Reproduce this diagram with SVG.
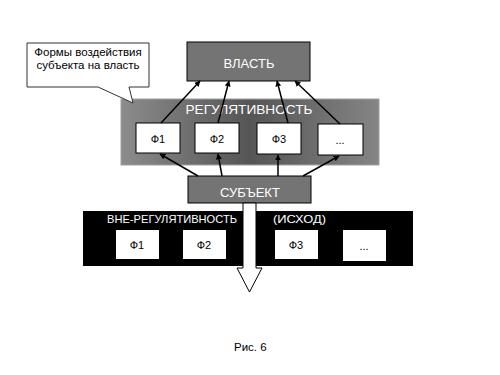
<svg xmlns="http://www.w3.org/2000/svg" width="500" height="375" viewBox="0 0 500 375">
<defs>
<style>
text{font-family:"Liberation Sans",Arial,sans-serif}
.big{font-size:13px;fill:#fff;text-anchor:middle}
.lbl{font-size:11px;fill:#000;text-anchor:middle}
.wl{font-size:10.5px;fill:#fff}
.gbox{fill:#747474;stroke:#000;stroke-width:1}
.wbox{fill:#fff;stroke:#000;stroke-width:1}
.nbox{fill:#fff}
.conn{stroke:#000;stroke-width:1.5;fill:none;marker-end:url(#ah)}
</style>
<marker id="ah" viewBox="0 0 10 10" refX="9" refY="5" markerWidth="6" markerHeight="6" markerUnits="userSpaceOnUse" orient="auto">
<path d="M0,0 L10,5 L0,10 Z" fill="#000"/>
</marker>
<linearGradient id="rg" x1="0" y1="0" x2="1" y2="0">
<stop offset="0" stop-color="#8c8c8c"/>
<stop offset="0.5" stop-color="#555"/>
<stop offset="1" stop-color="#858585"/>
</linearGradient>
</defs>
<rect width="500" height="375" fill="#fff"/>

<g id="regulyativnost">
<rect x="121" y="99" width="258" height="66" fill="url(#rg)" stroke="#a0a0a0" stroke-width="1"/>
<text class="big" x="249" y="114" textLength="127" lengthAdjust="spacingAndGlyphs">РЕГУЛЯТИВНОСТЬ</text>
</g>

<g id="callout">
<path d="M27,43 H149 V87 H129 L133,103 L98,87 H27 Z" fill="#fff" stroke="#333" stroke-width="1"/>
<text x="88" y="56" font-size="11.5" text-anchor="middle">Формы воздействия</text>
<text x="88" y="69" font-size="11.5" text-anchor="middle">субъекта на власть</text>
</g>

<g id="vlast">
<rect class="gbox" x="187" y="42" width="123" height="39"/>
<text class="big" x="249" y="68">ВЛАСТЬ</text>
</g>

<g id="r-f1"><rect class="wbox" x="136" y="123" width="44" height="30"/><text class="lbl" x="158" y="143">Ф1</text></g>
<g id="r-f2"><rect class="wbox" x="195" y="123" width="44" height="30"/><text class="lbl" x="217" y="143">Ф2</text></g>
<g id="r-f3"><rect class="wbox" x="257" y="123" width="44" height="31"/><text class="lbl" x="279" y="143">Ф3</text></g>
<g id="r-f4"><rect class="wbox" x="318" y="124" width="45" height="31"/><text class="lbl" x="340" y="144">...</text></g>

<g id="subekt">
<rect class="gbox" x="188" y="176" width="123" height="27"/>
<text class="big" x="250" y="197">СУБЪЕКТ</text>
</g>

<g id="vne">
<rect x="83" y="211" width="330" height="55" fill="#000"/>
<text class="wl" x="107" y="223" textLength="130" lengthAdjust="spacingAndGlyphs">ВНЕ-РЕГУЛЯТИВНОСТЬ</text>
<text class="wl" x="273" y="223" textLength="53" lengthAdjust="spacingAndGlyphs">(ИСХОД)</text>
</g>
<g id="v-f1"><rect class="nbox" x="116" y="230" width="43" height="29"/><text class="lbl" x="137" y="249">Ф1</text></g>
<g id="v-f2"><rect class="nbox" x="183" y="230" width="43" height="29"/><text class="lbl" x="204" y="249">Ф2</text></g>
<g id="v-f3"><rect class="nbox" x="275" y="230" width="43" height="29"/><text class="lbl" x="296" y="249">Ф3</text></g>
<g id="v-f4"><rect class="nbox" x="343" y="230" width="43" height="31"/><text class="lbl" x="364" y="250">...</text></g>

<g id="connectors">
<line class="conn" x1="161" y1="123" x2="200" y2="81"/>
<line class="conn" x1="218" y1="123" x2="229" y2="81"/>
<line class="conn" x1="288" y1="123" x2="277" y2="81"/>
<line class="conn" x1="340" y1="124" x2="295" y2="81"/>
<line class="conn" x1="198" y1="176" x2="160" y2="154"/>
<line class="conn" x1="222" y1="176" x2="218" y2="154"/>
<line class="conn" x1="278" y1="176" x2="278" y2="155"/>
<line class="conn" x1="303" y1="176" x2="339" y2="156"/>
<path d="M243,203 V268 H237 L249.5,292 L262,268 H256 V203 Z" fill="#fff" stroke="#000" stroke-width="1"/>
</g>

<text x="234" y="351" font-size="11.5">Рис. 6</text>
</svg>
